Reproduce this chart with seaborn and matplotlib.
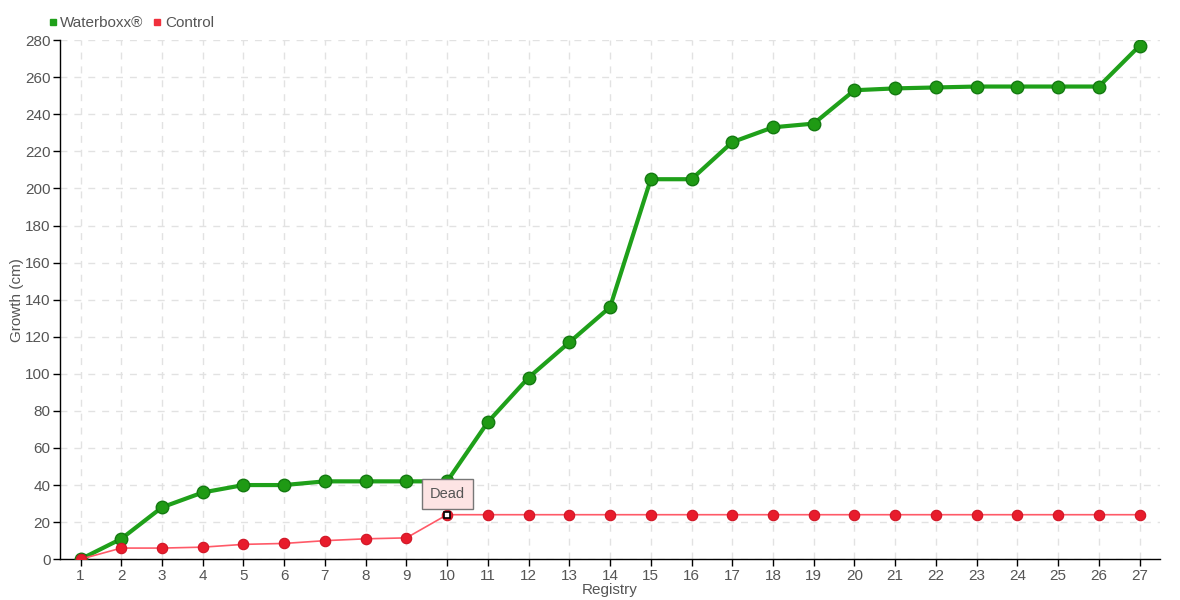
import matplotlib
matplotlib.use("Agg")
import matplotlib.pyplot as plt
import seaborn as sns
import pandas as pd
import numpy as np
from matplotlib.lines import Line2D

registry = list(range(1, 28))
waterboxx = [0, 11, 28, 36, 40, 40, 42, 42, 42, 42, 74, 98, 117, 136, 205, 205,
             225, 233, 235, 253, 254, 254.5, 255, 255, 255, 255, 277]
control = [0, 6, 6, 6.5, 8, 8.5, 10, 11, 11.5, 24, 24, 24, 24, 24, 24, 24,
           24, 24, 24, 24, 24, 24, 24, 24, 24, 24, 24]
y_ticks = list(range(0, 281, 20))

df = pd.DataFrame({"Registry": registry, "Waterboxx®": waterboxx, "Control": control})

sns.set_theme(style="white")
plt.rcParams['font.family'] = ['Liberation Sans', 'DejaVu Sans']
txt = '#555555'

fig, ax = plt.subplots(figsize=(11.8, 6), dpi=100)
fig.subplots_adjust(left=0.051, right=0.983, top=0.933, bottom=0.068)

green = '#1fa01a'
red = '#f0303c'
sns.lineplot(data=df, x="Registry", y="Waterboxx®", ax=ax, color=green, linewidth=3,
             marker='o', markersize=9, markerfacecolor='#1f9a14', markeredgecolor='#137a10',
             markeredgewidth=1, zorder=3)
sns.lineplot(data=df, x="Registry", y="Control", ax=ax, color='#ff5a68', linewidth=1.2,
             marker='o', markersize=7.5, markerfacecolor='#e81c2c', markeredgecolor='#d01525',
             markeredgewidth=0.8, zorder=4)

# highlighted point
ax.plot(registry[9], control[9], marker='s', markersize=5, markerfacecolor='white',
        markeredgecolor='black', markeredgewidth=1.2, zorder=6, linestyle='none')
ax.annotate('Dead', xy=(registry[9], control[9]), xytext=(0, 15), textcoords='offset points',
            ha='center', va='center', fontsize=10.5, color='#555555',
            bbox=dict(boxstyle='square,pad=0.55', fc='#fde4e4', ec='#777777', lw=1),
            zorder=7)

ax.set_xlim(0.5, 27.5)
ax.set_ylim(0, 280)
ax.set_xticks(registry)
ax.set_yticks(y_ticks)
ax.grid(True, linestyle=(0, (5, 5)), color='#e2e2e2', linewidth=1)
for s in ['top', 'right']:
    ax.spines[s].set_visible(False)
for s in ['left', 'bottom']:
    ax.spines[s].set_color('black')
    ax.spines[s].set_linewidth(1)
ax.tick_params(axis='both', which='both', direction='out', length=5, width=1,
               colors='black', labelcolor=txt, labelsize=11, left=True, bottom=True, pad=2)
ax.set_xlabel('Registry', fontsize=11, color=txt, labelpad=0)
ax.set_ylabel('Growth (cm)', fontsize=11, color=txt, labelpad=1)

# legend
handles = [Line2D([], [], marker='s', linestyle='none', color=green, markersize=5),
           Line2D([], [], marker='s', linestyle='none', color=red, markersize=5)]
leg = ax.legend(handles, ['Waterboxx®', 'Control'], loc='lower left',
                bbox_to_anchor=(-0.018, 1.005), ncol=2, frameon=False, fontsize=11,
                handlelength=0.6, handletextpad=0.2, columnspacing=0.6, borderaxespad=0.1)
for t in leg.get_texts():
    t.set_color(txt)

fig.savefig('out.png', dpi=100)
